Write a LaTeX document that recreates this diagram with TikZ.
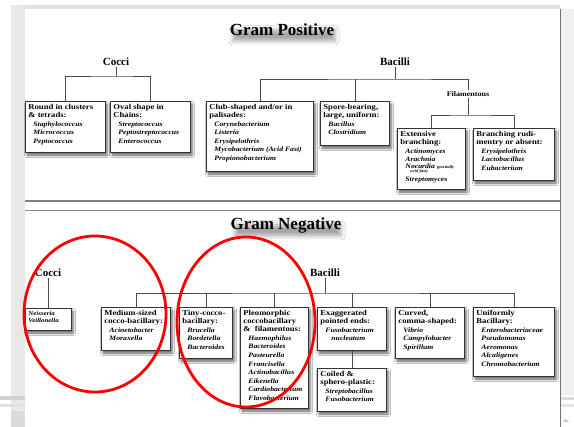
\documentclass[tikz,border=0pt]{standalone}
\usepackage{fontspec}
\setmainfont{Liberation Serif}
\newfontfamily\boxfont{Liberation Serif}[FakeStretch=1.15]
\usetikzlibrary{shadows.blur}

% text inside the classification boxes
\newcommand\hd[1]{{\boxfont\fontsize{7.5}{8.3}\selectfont\bfseries #1\par}}
\newcommand\gn[1]{{\boxfont\fontsize{6.7}{8.6}\selectfont\bfseries\itshape\hspace*{5pt}#1\par}}
\newcommand\bt[3]{\parbox[t][#2pt][t]{#1pt}{\raggedright #3}}

\tikzset{
  box/.style={draw=black!80, line width=0.9pt, fill=white, inner xsep=3pt,
    inner ysep=2.5pt, anchor=north west,
    blur shadow={shadow xshift=1.6pt, shadow yshift=-2.6pt,
      shadow blur radius=2.6pt, shadow opacity=65}},
  conn/.style={draw=black!70, line width=0.7pt},
  lbl/.style={font=\fontsize{11}{12}\selectfont\bfseries, inner sep=1pt},
  sublbl/.style={font=\boxfont\fontsize{7}{8}\selectfont\bfseries, inner sep=1pt},
  title/.style={font=\fontsize{17}{19}\selectfont\bfseries, inner sep=0pt},
  tshadow/.style={blur shadow={shadow xshift=2pt, shadow yshift=-4pt,
      shadow blur radius=4pt, shadow opacity=35}},
  ring/.style={draw=red, line width=2.8pt},
}

\begin{document}
\begin{tikzpicture}[x=1pt, y=-1pt]
\useasboundingbox (0,0) rectangle (574,427);
% page background and slide frames
\fill[white] (0,0) rectangle (574,427);
\fill[black!12] (11,5) rectangle (560,9);
\fill[black!9] (11,5) rectangle (25,427);
\fill[blue!3!black!6] (560,9) rectangle (574,395);
\fill[black!18] (0,396) rectangle (25,400);
\fill[black!12] (0,404) rectangle (25,407);
\fill[black!14] (11,411) rectangle (25,427);
\fill[black!14] (561,397) rectangle (574,400);
\fill[black!10] (561,404) rectangle (574,407);
\draw[black!55, line width=0.8pt] (560,9) -- (560,427);
\draw[black!50, line width=1.2pt] (25,201) -- (560,201);
\draw[black!45, line width=0.7pt] (25,210) -- (560,210);
\node[font=\fontsize{4.5}{5}\selectfont, text=black!60, inner sep=0pt] (ifo) at (566,421) {ifo};

% ---------- Gram positive ----------
\path[tshadow] (231,26) rectangle (333,37);
\node[title] (gpos) at (282,30) {Gram Positive};

\node[lbl] (pcocci) at (116,62) {Cocci};
\node[lbl] (pbac) at (395,62) {Bacilli};
\node[sublbl] (fil) at (468,94) {Filamentous};

\node[box] (p1) at (25,101) {\bt{74}{46}{\hd{Round in clusters}\hd{\& tetrads:}
  \gn{Staphylococcus}\gn{Micrococcus}\gn{Peptococcus}}};
\node[box] (p2) at (110,101) {\bt{74}{46}{\hd{Oval shape in}\hd{Chains:}
  \gn{Streptococcus}\gn{Peptostreptococcus}\gn{Enterococcus}}};
\node[box] (p3) at (206,101) {\bt{101}{65}{\hd{Club-shaped and/or in}\hd{palisades:}
  \gn{Corynebacterium}\gn{Listeria}\gn{Erysipelothrix}\gn{Mycobacterium (Acid Fast)}
  \gn{Propionobacterium}}};
\node[box] (p4) at (320,101) {\bt{63}{39}{\hd{Spore-bearing,}\hd{large, uniform:}
  \gn{Bacillus}\gn{Clostridium}}};
\node[box] (p5) at (397,128) {\bt{62}{56}{\hd{Extensive}\hd{branching:}
  \gn{Actinomyces}\gn{Arachnia}
  {\boxfont\fontsize{6.7}{6.7}\selectfont\bfseries\itshape\hspace*{5pt}Nocardia
   {\fontsize{4}{4.5}\selectfont (partially}\par}
  {\boxfont\fontsize{4}{4.5}\selectfont\bfseries\itshape\hspace*{10pt}acid fast)\par}
  \gn{Streptomyces}}};
\node[box] (p6) at (473,128) {\bt{75}{47}{\hd{Branching rudi-}\hd{mentry or absent:}
  \gn{Erysipelothrix}\gn{Lactobacillus}\gn{Eubacterium}}};

\coordinate (pcbar) at (116,76);
\coordinate (pbbar) at (395,79);
\coordinate (pfbar) at (468,115);
\draw[conn] (pcocci.south) -- (pcbar);
\draw[conn] (p1.north) |- (pcbar) -| (p2.north);
\draw[conn] (pbac.south) -- (pbbar);
\draw[conn] (p3.north) |- (pbbar) -| (fil.north);
\draw[conn] (p4.north) -- (p4.north |- pbbar);
\draw[conn] (fil.south) -- (pfbar);
\draw[conn] (p5.north) |- (pfbar) -| (p6.north);

% ---------- Gram negative ----------
\path[tshadow] (233,221) rectangle (339,232);
\node[title] (gneg) at (286,225) {Gram Negative};

\node[lbl] (ncocci) at (48,273) {Cocci};
\node[lbl] (nbac) at (325,273) {Bacilli};

\node[box] (n1) at (25,308) {\bt{40}{17}{%
  {\boxfont\fontsize{6}{7.5}\selectfont\bfseries\itshape Neisseria\par Veillonella\par}}};
\node[box] (n2) at (101,307) {\bt{63}{38}{\hd{Medium-sized}\hd{cocco-bacillary:}
  \gn{Acinetobacter}\gn{Moraxella}}};
\node[box] (n3) at (179,307) {\bt{47}{46}{\hd{Tiny-cocco-}\hd{bacillary:}
  \gn{Brucella}\gn{Bordetella}\gn{Bacteroides}}};
\node[box] (n4) at (240,307) {\bt{62}{96}{\hd{Pleomorphic}\hd{coccobacillary}
  \hd{\& \ filamentous:}
  \gn{Haemophilus}\gn{Bacteroides}\gn{Pasteurella}\gn{Francisella}
  \gn{Actinobacillus}\gn{Eikenella}\gn{Cardiobacterium}\gn{Flavobacterium}}};
\node[box] (n5) at (317,307) {\bt{63}{38}{\hd{Exaggerated}\hd{pointed ends:}
  \gn{Fusobacterium}\gn{\hspace*{6pt}nucleatum}}};
\node[box] (n6) at (317,368) {\bt{63}{38}{\hd{Coiled \&}\hd{sphero-plastic:}
  \gn{Streptobacillus}\gn{Fusobacterium}}};
\node[box] (n7) at (395,307) {\bt{63}{46}{\hd{Curved,}\hd{comma-shaped:}
  \gn{Vibrio}\gn{Campylobacter}\gn{Spirillum}}};
\node[box] (n8) at (473,307) {\bt{75}{64}{\hd{Uniformly}\hd{Bacillary:}
  \gn{Enterobacteriaceae}\gn{Pseudomonas}\gn{Aeromonas}\gn{Alcaligenes}
  \gn{Chromobacterium}}};

\coordinate (nbbar) at (325,293);
\draw[conn] (ncocci.south) -- (n1.north -| ncocci.south);
\draw[conn] (nbac.south) -- (nbbar);
\draw[conn] (n2.north) |- (nbbar) -| (n8.north);
\draw[conn] (n3.north) -- (n3.north |- nbbar);
\draw[conn] (n4.north) -- (n4.north |- nbbar);
\draw[conn] (n5.north) -- (n5.north |- nbbar);
\draw[conn] (n7.north) -- (n7.north |- nbbar);
\draw[conn] (n5.south) -- (n6.north);

% red rings drawn over the chart
\draw[ring] (95,314) ellipse [x radius=71pt, y radius=78pt];
\draw[ring] (246,322) ellipse [x radius=69pt, y radius=85pt];
\end{tikzpicture}
\end{document}
